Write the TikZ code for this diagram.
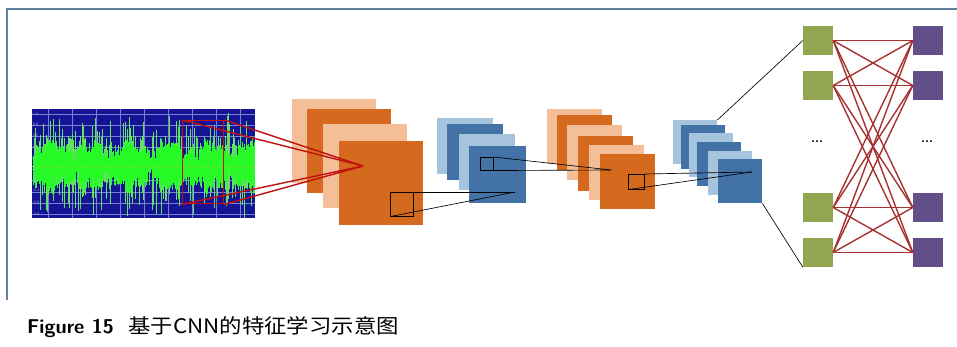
\documentclass[tikz,border=0pt]{standalone}
\usepackage{fontspec}
\newfontfamily\cjk{Noto Sans CJK SC}
\usepackage{graphicx}
\definecolor{olight}{RGB}{244,190,152}
\definecolor{odark}{RGB}{213,106,30}
\definecolor{blight}{RGB}{167,196,222}
\definecolor{bdark}{RGB}{66,114,166}
\definecolor{gsq}{RGB}{146,166,82}
\definecolor{psq}{RGB}{98,78,136}
\definecolor{linkred}{RGB}{165,50,46}
\definecolor{boxred}{RGB}{192,16,16}
\definecolor{framec}{RGB}{96,128,160}
\definecolor{wavebg}{RGB}{20,20,148}
\definecolor{gridc}{RGB}{120,130,210}
\definecolor{wbody}{RGB}{40,250,40}
\definecolor{wspike}{RGB}{100,225,100}
\tikzset{
  sq/.style={rectangle, inner sep=0pt, minimum width=#1 pt, minimum height=#1 pt, anchor=north west, draw=none},
  fcn/.style={rectangle, inner sep=0pt, minimum width=30pt, minimum height=29pt, draw=none},
  zoombox/.style={rectangle, inner sep=0pt, draw=black, line width=0.6pt, anchor=north west},
  blackln/.style={black, line width=0.65pt},
  redln/.style={boxred, line width=1.4pt},
  link/.style={linkred, line width=1.4pt},
  wavebody/.style={wbody, line width=0.55pt},
  wavespike/.style={wspike, line width=0.45pt},
  axlab/.style={text=gridc!60!white, font=\sffamily\fontsize{3.5}{4}\selectfont, inner sep=0pt, anchor=west},
  dotlab/.style={font=\sffamily\bfseries\fontsize{13}{15}\selectfont, inner sep=0pt}
}
\begin{document}
\begin{tikzpicture}[x=1pt,y=-1pt]
\useasboundingbox (0,0) rectangle (957,347);
% frame
\draw[framec, line width=1.5pt] (7,300) -- (7,9) -- (957,9);
% waveform
\node[rectangle, inner sep=0pt, minimum width=223pt, minimum height=109pt, fill=wavebg, anchor=north west] (wave) at (32,109) {};
\begin{scope}
\clip (32,109) rectangle (255,218);
\foreach \k in {0,...,9}{\draw[gridc, line width=0.35pt] (32,114+11.1*\k) -- (255,114+11.1*\k);}
\foreach \k in {2,...,10}{\draw[gridc, line width=0.35pt] (24*\k,109) -- (24*\k,218);}
\pgfmathsetseed{4242}
\foreach \i in {0,...,220}{
  \pgfmathsetmacro\xx{33+221*rnd}
  \pgfmathsetmacro\up{16+40*rnd*rnd}
  \pgfmathsetmacro\dn{16+40*rnd*rnd}
  \draw[wavespike] (\xx,166-\up) -- (\xx,166+\dn);
}
\foreach \i in {0,...,442}{
  \pgfmathsetmacro\xx{33+\i*0.5}
  \pgfmathsetmacro\env{4*sin(\xx*9)+3*sin(\xx*23)}
  \pgfmathsetmacro\up{8+\env+14*rnd}
  \pgfmathsetmacro\dn{8+\env+14*rnd}
  \draw[wavebody] (\xx,166-\up) -- (\xx,166+\dn);
}
\draw[yellow!60!green, line width=0.4pt, dashed] (32,166) -- (255,166);
\end{scope}
\foreach \v/\yy in {1.0/114,0.8/124,0.6/135,0.4/147,0.2/157,0.0/168,-0.2/180,-0.4/190,-0.6/202,-0.8/214}{
  \node[axlab] at (33,\yy) {\v};
}
% red box in waveform
\node[rectangle, inner sep=0pt, minimum width=41pt, minimum height=83pt, draw=boxred, line width=1.4pt, anchor=north west] (rbox) at (182,120) {};
% orange layer 1
\node[sq=84, fill=olight] (o1a) at (292,99) {};
\node[sq=84, fill=odark] (o1b) at (307,109) {};
\node[sq=84, fill=olight] (o1c) at (323,124) {};
\node[sq=84, fill=odark] (o1d) at (339,141) {};
\coordinate (ap1) at (363,166);
\draw[redln] (rbox.north west) -- (ap1);
\draw[redln] (rbox.north east) -- (ap1);
\draw[redln] (rbox.south west) -- (ap1);
\draw[redln] (rbox.south east) -- (ap1);
% blue layer 1
\node[sq=56, fill=blight] (b1a) at (437,118) {};
\node[sq=56, fill=bdark] (b1b) at (447,124) {};
\node[sq=56, fill=blight] (b1c) at (459,134) {};
\node[sq=57, fill=bdark] (b1d) at (469,146) {};
\coordinate (ap2) at (515,192);
\node[zoombox, minimum width=23pt, minimum height=24pt] (z1) at (390,192) {};
\draw[blackln] (z1.north east) -- (ap2);
\draw[blackln] (z1.south west) -- (ap2);
% orange layer 2
\node[sq=55, fill=olight] (o2a) at (547,109) {};
\node[sq=55, fill=odark] (o2b) at (557,115) {};
\node[sq=55, fill=olight] (o2c) at (567,125) {};
\node[sq=55, fill=odark] (o2d) at (578,136) {};
\node[sq=55, fill=olight] (o2e) at (589,145) {};
\node[sq=55, fill=odark] (o2f) at (600,154) {};
\coordinate (ap3) at (611,170);
\node[zoombox, minimum width=13pt, minimum height=13pt] (z2) at (480,157) {};
\draw[blackln] (z2.north east) -- (ap3);
\draw[blackln] (z2.south west) -- (ap3);
% blue layer 2
\node[sq=44, fill=blight] (b2a) at (673,120) {};
\node[sq=44, fill=bdark] (b2b) at (681,125) {};
\node[sq=44, fill=blight] (b2c) at (689,133) {};
\node[sq=44, fill=bdark] (b2d) at (697,142) {};
\node[sq=44, fill=blight] (b2e) at (708,151) {};
\node[sq=44, fill=bdark] (b2f) at (718,159) {};
\coordinate (ap4) at (752,172);
\node[zoombox, minimum width=16pt, minimum height=15pt] (z3) at (628,174) {};
\draw[blackln] (z3.north east) -- (ap4);
\draw[blackln] (z3.south west) -- (ap4);
% fully connected
\node[fcn, fill=gsq] (g1) at (818,40.5) {};
\node[fcn, fill=gsq] (g2) at (818,85.5) {};
\node[fcn, fill=gsq] (g3) at (818,207.5) {};
\node[fcn, fill=gsq] (g4) at (818,252.5) {};
\node[fcn, fill=psq] (p1) at (928,40.5) {};
\node[fcn, fill=psq] (p2) at (928,85.5) {};
\node[fcn, fill=psq] (p3) at (928,207.5) {};
\node[fcn, fill=psq] (p4) at (928,252.5) {};
\foreach \a in {1,2,3,4}{\foreach \b in {1,2,3,4}{\draw[link] (g\a.east) -- (p\b.west);}}
\node[dotlab] (d1) at (817,142) {...};
\node[dotlab] (d2) at (927,142) {...};
\draw[blackln] (b2a.north east) -- (g1.west);
\draw[blackln] (b2f.south east) -- (g4.south west);
% caption
\node[anchor=base west, inner sep=0pt, font=\sffamily\bfseries\fontsize{20}{22}\selectfont] (cap1) at (27,333) {Figure 15};
\node[anchor=base west, inner sep=0pt] (cap2) at (128,333) {\scalebox{1.12}[1]{\cjk\fontsize{20}{22}\selectfont 基于CNN的特征学习示意图}};
\end{tikzpicture}
\end{document}
